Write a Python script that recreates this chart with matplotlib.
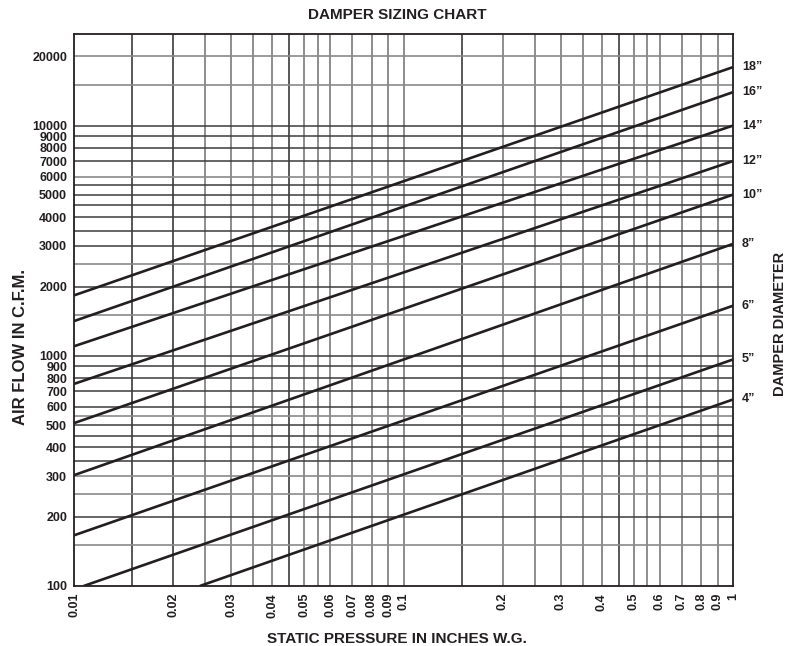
import matplotlib
matplotlib.use("Agg")
import matplotlib.pyplot as plt
from matplotlib.ticker import FixedLocator, FixedFormatter, NullLocator

plt.rcParams['font.family'] = ['Liberation Sans', 'DejaVu Sans']

# ---- data ----
diameters = ['18\u201d', '16\u201d', '14\u201d', '12\u201d', '10\u201d', '8\u201d', '6\u201d', '5\u201d', '4\u201d']
start_pressure = [0.01, 0.01, 0.01, 0.01, 0.01, 0.01, 0.01, 0.0107, 0.0241]
start_flow = [1830, 1415, 1100, 755, 510, 303, 166, 100, 100]
end_pressure = [1.0] * 9
end_flow = [17950, 13970, 10000, 7015, 5013, 3063, 1650, 964, 646]

x_tick_values = [0.01, 0.02, 0.03, 0.04, 0.05, 0.06, 0.07, 0.08, 0.09,
                 0.1, 0.2, 0.3, 0.4, 0.5, 0.6, 0.7, 0.8, 0.9, 1]
x_tick_labels = ['0.01', '0.02', '0.03', '0.04', '0.05', '0.06', '0.07', '0.08', '0.09',
                 '0.1', '0.2', '0.3', '0.4', '0.5', '0.6', '0.7', '0.8', '0.9', '1']
y_tick_values = [100, 200, 300, 400, 500, 600, 700, 800, 900,
                 1000, 2000, 3000, 4000, 5000, 6000, 7000, 8000, 9000, 10000, 20000]
y_tick_labels = [str(v) for v in y_tick_values]

x_grid_dark = [0.015, 0.02, 0.045, 0.15, 0.45]
x_grid_gray = [0.025, 0.03, 0.035, 0.04, 0.05, 0.055, 0.06, 0.07, 0.08, 0.09,
               0.1, 0.2, 0.25, 0.3, 0.35, 0.4, 0.5, 0.55, 0.6, 0.7, 0.8, 0.9]
y_grid_dark = [200, 350, 400, 450, 500, 600, 700, 800, 900, 1000, 2000, 3000,
               3500, 4000, 4500, 5000, 5500, 7000, 8000, 9000, 10000]
y_grid_gray = [150, 250, 300, 550, 1500, 2500, 6000, 15000, 20000]

ink = '#231f20'

fig = plt.figure(figsize=(7.96, 6.46), dpi=100)
ax = fig.add_axes([74/796, 60/646, (733-74)/796, (586-34)/646])
ax.set_xscale('log')
ax.set_yscale('log')
ax.set_xlim(0.01, 1)
ax.set_ylim(100, 25000)

for v in x_grid_gray:
    ax.axvline(v, color='#7a7a7a', lw=1.2, zorder=1)
for v in x_grid_dark:
    ax.axvline(v, color='#2a2a2a', lw=1.1, zorder=1)
for v in y_grid_gray:
    ax.axhline(v, color='#8a8a8a', lw=1.2, zorder=1)
for v in y_grid_dark:
    ax.axhline(v, color='#3c3c3c', lw=1.1, zorder=1)

for lab, p0, q0, p1, q1 in zip(diameters, start_pressure, start_flow, end_pressure, end_flow):
    ax.plot([p0, p1], [q0, q1], color=ink, lw=1.9, zorder=3, solid_capstyle='butt')
    ax.annotate(lab, xy=(p1, q1), xytext=(9, 0), textcoords='offset pixels',
                ha='left', va='center', fontsize=9, fontweight='bold', color=ink,
                annotation_clip=False)

ax.xaxis.set_major_locator(FixedLocator(x_tick_values))
ax.xaxis.set_major_formatter(FixedFormatter(x_tick_labels))
ax.xaxis.set_minor_locator(NullLocator())
ax.yaxis.set_major_locator(FixedLocator(y_tick_values))
ax.yaxis.set_major_formatter(FixedFormatter(y_tick_labels))
ax.yaxis.set_minor_locator(NullLocator())
ax.tick_params(axis='both', length=0, labelsize=9, colors=ink)
ax.tick_params(axis='x', pad=5, labelrotation=90)
ax.tick_params(axis='y', pad=5)
for t in ax.get_xticklabels() + ax.get_yticklabels():
    t.set_fontweight('bold')

for s in ax.spines.values():
    s.set_color(ink)
    s.set_linewidth(1.3)
    s.set_zorder(4)

fig.text(397/796, 1 - 15/646, 'DAMPER SIZING CHART', ha='center', va='center',
         fontsize=11, fontweight='bold', color=ink)
fig.text(397/796, 1 - 639/646, 'STATIC PRESSURE IN INCHES W.G.', ha='center', va='center',
         fontsize=11, fontweight='bold', color=ink)
fig.text(21/796, 1 - 347/646, 'AIR FLOW IN C.F.M.', ha='center', va='center',
         rotation=90, fontsize=12, fontweight='bold', color=ink)
fig.text(780/796, 1 - 324/646, 'DAMPER DIAMETER', ha='center', va='center',
         rotation=90, fontsize=10.5, fontweight='bold', color=ink)

fig.savefig('out.png', dpi=100)
